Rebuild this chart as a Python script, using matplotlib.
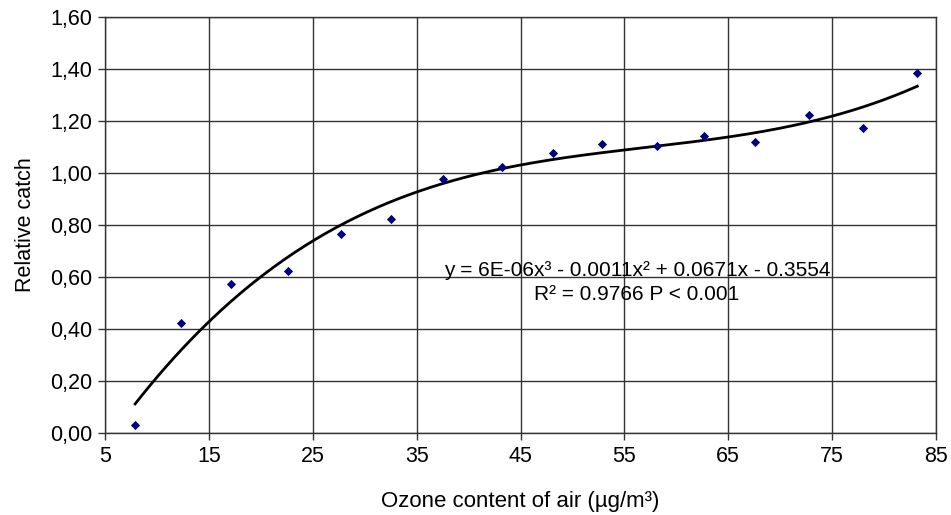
import numpy as np
import matplotlib
matplotlib.use("Agg")
import matplotlib.pyplot as plt
from matplotlib.ticker import FuncFormatter

plt.rcParams['font.family'] = ['Liberation Sans', 'DejaVu Sans']

ozone = [7.9, 12.3, 17.1, 22.6, 27.7, 32.5, 37.5, 43.2, 48.1, 52.8, 58.1, 62.7, 67.6, 72.8, 78.0, 83.2]
catch = [0.031, 0.422, 0.573, 0.624, 0.764, 0.822, 0.978, 1.024, 1.078, 1.110, 1.105, 1.144, 1.121, 1.223, 1.172, 1.383]
xticks = [5, 15, 25, 35, 45, 55, 65, 75, 85]
yticks = [0.0, 0.2, 0.4, 0.6, 0.8, 1.0, 1.2, 1.4, 1.6]
eq_text = "y = 6E-06x³ - 0.0011x² + 0.0671x - 0.3554"
r2_text = "R² = 0.9766 P < 0.001"

W, H = 951, 515
fig = plt.figure(figsize=(W/100, H/100), dpi=100)
ax = fig.add_axes([105/W, 82/H, 831/W, 416/H])

ax.set_xlim(5, 85)
ax.set_ylim(0, 1.6)
ax.set_xticks(xticks)
ax.set_yticks(yticks)
ax.yaxis.set_major_formatter(FuncFormatter(lambda v, p: f"{v:.2f}".replace('.', ',')))
ax.grid(True, color='#333333', linewidth=1.0)
ax.set_axisbelow(True)
for s in ax.spines.values():
    s.set_color('#333333')
    s.set_linewidth(1.0)
ax.tick_params(axis='both', direction='out', length=5, width=1, color='#333333',
               labelsize=15.5, pad=4)

coef = np.polyfit(ozone, catch, 3)
xs = np.linspace(min(ozone), max(ozone), 300)
ax.plot(xs, np.polyval(coef, xs), color='black', linewidth=2, zorder=3)
ax.scatter(ozone, catch, marker='D', s=22, color='#000080', zorder=4, linewidths=0)

fig.text(637/W, 1 - 270/H, eq_text, ha='center', va='center', fontsize=15)
fig.text(637/W, 1 - 295/H, r2_text, ha='center', va='center', fontsize=15)

ax.set_xlabel("Ozone content of air (µg/m³)", fontsize=16, labelpad=18)
ax.set_ylabel("Relative catch", fontsize=15.5, labelpad=10)

fig.savefig("out.png", dpi=100)
